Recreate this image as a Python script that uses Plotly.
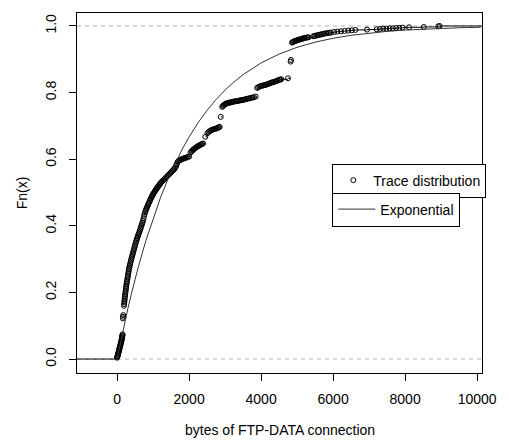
import plotly.graph_objects as go

# ECDF points of the trace (bytes, Fn(x))
ecdf_x = [0, 6, 12, 18, 24, 30, 36, 42, 48, 54, 60, 66, 72, 78, 84, 90, 96, 102, 108, 113, 118, 123, 128, 132, 136, 140, 144, 148, 152,
          160, 165, 170,
          190, 195, 200, 205, 210, 215, 220, 226, 232, 238, 244, 250, 256, 262, 268, 276, 285, 292, 300, 308, 315, 322, 330, 340, 350,
          361, 372, 383, 395, 407, 420, 432, 445, 457, 470, 482, 495, 507, 520, 534, 548, 561, 575, 586, 598,
          615, 630, 645, 660, 675, 690, 705, 720, 735, 750, 765, 780, 795, 810, 825, 840, 855, 870, 888, 905, 922, 940, 955, 970, 988, 1005,
          1022, 1040, 1058, 1075, 1092, 1110, 1125, 1141, 1160, 1180, 1200, 1220, 1248, 1277, 1303, 1330, 1365, 1400, 1430, 1458, 1485, 1510, 1535, 1560, 1580, 1600,
          1620, 1640, 1660, 1685, 1700, 1720, 1740, 1760, 1790, 1820, 1845, 1870, 1900, 1930, 1965, 2002,
          2040, 2065, 2090, 2110, 2130, 2155, 2180, 2205, 2230, 2255, 2280, 2305, 2330, 2360, 2390,
          2450,
          2510, 2540, 2570, 2600, 2630, 2660, 2690, 2720, 2750, 2775, 2800, 2825, 2850,
          2880,
          2920, 2940, 2960, 2985, 3010, 3035, 3060, 3090, 3120, 3150, 3180, 3210, 3240, 3270, 3300, 3330, 3360, 3395, 3430, 3465, 3500, 3535, 3570, 3605, 3640, 3680, 3720, 3760, 3800, 3850,
          3890, 3920, 3950, 3980, 4010, 4045, 4080, 4115, 4150, 4185, 4220, 4255, 4290, 4325, 4360, 4395, 4430, 4465, 4500, 4530, 4560,
          4746,
          4820, 4830,
          4860, 4880, 4900, 4925, 4950, 4975, 5000, 5030, 5060, 5090, 5120, 5150, 5180, 5215, 5250, 5285, 5320,
          5450, 5485, 5520, 5560, 5600, 5640, 5680, 5720, 5760, 5805, 5850, 5895, 5940,
          6030, 6120, 6220, 6320, 6420, 6520, 6620,
          6940, 7210, 7300, 7390, 7480, 7570, 7660, 7750, 7840, 7930, 8110,
          8520, 8920, 8960]
ecdf_y = [0.004, 0.0065, 0.009, 0.0115, 0.014, 0.0165, 0.019, 0.0215, 0.024, 0.0265, 0.029, 0.0315, 0.034, 0.0365, 0.039, 0.0415, 0.044, 0.0465, 0.049, 0.0515, 0.054, 0.0565, 0.059, 0.0615, 0.064, 0.0665, 0.069, 0.0715, 0.074,
          0.122, 0.127, 0.132,
          0.160, 0.165, 0.170, 0.175, 0.180, 0.185, 0.190, 0.195, 0.200, 0.205, 0.210, 0.215, 0.220, 0.225, 0.230, 0.235, 0.240, 0.245, 0.250, 0.255, 0.260, 0.265, 0.270, 0.275, 0.280,
          0.285, 0.290, 0.295, 0.300, 0.305, 0.310, 0.315, 0.320, 0.325, 0.330, 0.335, 0.340, 0.345, 0.350, 0.355, 0.360, 0.364, 0.368, 0.372, 0.376,
          0.380, 0.385, 0.390, 0.395, 0.400, 0.405, 0.410, 0.415, 0.422, 0.430, 0.436, 0.441, 0.446, 0.450, 0.454, 0.458, 0.462, 0.466, 0.470, 0.474, 0.478, 0.482, 0.486, 0.489, 0.493, 0.496,
          0.499, 0.502, 0.505, 0.508, 0.511, 0.513, 0.516, 0.518, 0.521, 0.524, 0.527, 0.530, 0.533, 0.536, 0.539, 0.542, 0.546, 0.550, 0.553, 0.556, 0.559, 0.562, 0.565, 0.567, 0.570, 0.572,
          0.576, 0.580, 0.586, 0.592, 0.594, 0.596, 0.597, 0.598, 0.600, 0.601, 0.602, 0.603, 0.604, 0.605, 0.607, 0.608,
          0.620, 0.623, 0.626, 0.628, 0.630, 0.632, 0.634, 0.636, 0.638, 0.640, 0.641, 0.643, 0.644, 0.646, 0.647,
          0.667,
          0.678, 0.681, 0.684, 0.686, 0.688, 0.689, 0.690, 0.691, 0.692, 0.693, 0.694, 0.696, 0.697,
          0.727,
          0.757, 0.760, 0.762, 0.764, 0.766, 0.767, 0.768, 0.769, 0.770, 0.7705, 0.771, 0.772, 0.773, 0.7735, 0.774, 0.7745, 0.775, 0.776, 0.777, 0.7775, 0.778, 0.779, 0.780, 0.781, 0.782, 0.783, 0.784, 0.785, 0.786, 0.788,
          0.814, 0.816, 0.818, 0.819, 0.820, 0.821, 0.822, 0.823, 0.824, 0.8255, 0.827, 0.8285, 0.830, 0.831, 0.832, 0.8335, 0.835, 0.8365, 0.838, 0.839, 0.840,
          0.843,
          0.893, 0.898,
          0.950, 0.9515, 0.953, 0.954, 0.955, 0.956, 0.957, 0.958, 0.959, 0.960, 0.961, 0.962, 0.963, 0.964, 0.965, 0.9655, 0.966,
          0.969, 0.970, 0.971, 0.972, 0.973, 0.974, 0.975, 0.976, 0.977, 0.978, 0.979, 0.9795, 0.980,
          0.982, 0.983, 0.984, 0.985, 0.986, 0.987, 0.988,
          0.989, 0.990, 0.991, 0.992, 0.992, 0.993, 0.993, 0.994, 0.994, 0.995, 0.996,
          0.997, 0.999, 1.000]

# Fitted exponential CDF
exp_x = [0, 100, 200, 300, 400, 500, 600, 800, 1000, 1200, 1400, 1600, 1800, 2000,
         2250, 2500, 2750, 3000, 3250, 3500, 3750, 4000, 4500, 5000, 5500, 6000,
         6500, 7000, 7500, 8000, 8500, 9000, 9500, 10000, 10100]
exp_y = [0.0, 0.0535, 0.1041, 0.1520, 0.1973, 0.2402, 0.2808, 0.3557, 0.4227, 0.4828,
         0.5366, 0.5849, 0.6281, 0.6668, 0.7096, 0.7468, 0.7793, 0.8076, 0.8323, 0.8538,
         0.8726, 0.8890, 0.9156, 0.9359, 0.9513, 0.9630, 0.9719, 0.9786, 0.9838, 0.9877,
         0.9906, 0.9929, 0.9946, 0.9959, 0.9961]

x_ticks = [0, 2000, 4000, 6000, 8000, 10000]
y_ticks = [0.0, 0.2, 0.4, 0.6, 0.8, 1.0]
y_tick_text = ["0.0", "0.2", "0.4", "0.6", "0.8", "1.0"]

XR = [-1114, 10136]
YR = [-0.0419, 1.0389]

FONT = "Arial, Liberation Sans, sans-serif"

# horizontal step segments (no verticals), as in R's plot.stepfun
seg_x, seg_y = [XR[0], ecdf_x[0], None], [0, 0, None]
for i in range(len(ecdf_x)):
    nxt = ecdf_x[i + 1] if i + 1 < len(ecdf_x) else XR[1]
    seg_x += [ecdf_x[i], nxt, None]
    seg_y += [ecdf_y[i], ecdf_y[i], None]

fig = go.Figure()
fig.add_trace(go.Scatter(x=seg_x, y=seg_y, mode="lines",
                         line=dict(color="black", width=1), showlegend=False,
                         hoverinfo="skip"))
fig.add_trace(go.Scatter(x=ecdf_x, y=ecdf_y, mode="markers", name="Trace distribution",
                         marker=dict(symbol="circle-open", size=5, color="black",
                                     line=dict(width=1, color="black")),
                         legend="legend"))
fig.add_trace(go.Scatter(x=exp_x, y=exp_y, mode="lines", name="Exponential",
                         line=dict(color="#333333", width=1), legend="legend2"))

for yv in (0, 1):
    fig.add_shape(type="line", xref="paper", x0=0, x1=1, yref="y", y0=yv, y1=yv,
                  line=dict(color="#b3b3b3", width=1, dash="4px,4px"), layer="below")

axis_common = dict(showgrid=False, zeroline=False, showline=True, mirror=True,
                   linecolor="black", linewidth=1, ticks="outside", ticklen=7,
                   tickcolor="black", tickwidth=1,
                   tickfont=dict(family=FONT, size=14, color="black"))

fig.update_layout(
    width=509, height=440,
    margin=dict(l=77, r=18, t=12, b=67),
    paper_bgcolor="white", plot_bgcolor="white",
    font=dict(family=FONT, size=14, color="black"),
    xaxis=dict(range=XR, tickvals=x_ticks, ticktext=[str(v) for v in x_ticks],
               ticklabelstandoff=6, **axis_common),
    yaxis=dict(range=YR, tickvals=y_ticks, ticktext=y_tick_text, tickangle=-90,
               ticklabelstandoff=7, **axis_common),
    legend=dict(x=(338 - 77) / 414, y=1 - (163 - 12) / 361, xanchor="left", yanchor="top",
                bordercolor="black", borderwidth=1, bgcolor="white",
                font=dict(family=FONT, size=14, color="black"), itemwidth=30),
    legend2=dict(x=(338 - 77) / 414, y=1 - (192 - 12) / 361, xanchor="left", yanchor="top",
                 bordercolor="black", borderwidth=1, bgcolor="white",
                 font=dict(family=FONT, size=14, color="black"), itemwidth=37),
    annotations=[
        dict(text="bytes of FTP-DATA connection", xref="paper", yref="paper",
             x=0.5, y=-(430 - 373) / 361, xanchor="center", yanchor="middle",
             showarrow=False, font=dict(family=FONT, size=14, color="black")),
        dict(text="Fn(x)", xref="paper", yref="paper", x=-(77 - 21) / 414, y=0.5,
             xanchor="center", yanchor="middle", textangle=-90,
             showarrow=False, font=dict(family=FONT, size=14, color="black")),
    ],
)

fig.write_html("out.html")
